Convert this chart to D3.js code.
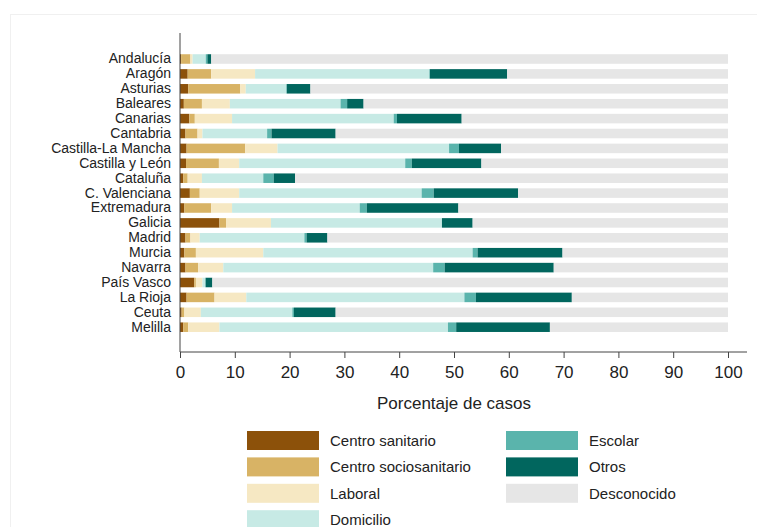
<!DOCTYPE html>
<html>
<head>
<meta charset="utf-8">
<script src="https://cdn.jsdelivr.net/npm/d3@7"></script>
<style>
  body { margin: 0; background: #fff; }
  svg { font-family: "Liberation Sans", Arial, sans-serif; }
</style>
</head>
<body>
<div id="canvas"></div>
<script>
// regions, top to bottom
const regions = ["Andalucía", "Aragón", "Asturias", "Baleares", "Canarias", "Cantabria",
  "Castilla-La Mancha", "Castilla y León", "Cataluña", "C. Valenciana", "Extremadura",
  "Galicia", "Madrid", "Murcia", "Navarra", "País Vasco", "La Rioja", "Ceuta", "Melilla"]

// percentage of cases per setting
const centroSanitario      = [0.2, 1.4, 1.5, 0.7, 1.7, 1.0, 1.2, 1.1, 0.6, 1.8, 0.8, 7.2, 1.0, 0.8, 1.0, 2.6, 1.2, 0.3, 0.6]
const centroSociosanitario = [1.7, 4.3, 9.5, 3.3, 1.0, 2.2, 10.7, 6.0, 0.8, 1.8, 4.9, 1.2, 0.9, 2.1, 2.3, 0.3, 5.1, 0.5, 0.9]
const laboral              = [0.4, 8.0, 1.0, 5.1, 6.8, 0.9, 5.9, 3.7, 2.6, 7.2, 3.8, 8.2, 1.7, 12.3, 4.6, 1.2, 5.8, 3.0, 5.7]
const domicilio            = [2.4, 31.8, 7.4, 20.2, 29.5, 11.8, 31.3, 30.3, 11.2, 33.3, 23.3, 31.2, 19.1, 38.2, 38.3, 0.5, 39.8, 16.7, 41.7]
const escolar              = [0.3, 0.1, 0.1, 1.2, 0.6, 0.8, 1.8, 1.2, 1.9, 2.2, 1.3, 0.0, 0.4, 0.9, 2.1, 0.1, 2.1, 0.3, 1.5]
const otros                = [0.7, 14.1, 4.3, 3.0, 11.8, 11.7, 7.7, 12.7, 3.9, 15.4, 16.7, 5.6, 3.8, 15.5, 19.9, 1.2, 17.5, 7.6, 17.1]
const desconocido          = [94.3, 40.3, 76.2, 66.5, 48.6, 71.6, 41.4, 45.0, 79.0, 38.3, 49.2, 46.6, 73.1, 30.2, 31.8, 94.1, 28.5, 71.6, 32.5]

const seriesNames = ["Centro sanitario", "Centro sociosanitario", "Laboral", "Domicilio",
  "Escolar", "Otros", "Desconocido"]
const seriesValues = [centroSanitario, centroSociosanitario, laboral, domicilio, escolar, otros, desconocido]
const seriesColors = ["#8c510a", "#d8b365", "#f6e8c3", "#c7eae5", "#5ab4ac", "#01665e", "#e6e6e6"]

const xTicks = [0, 10, 20, 30, 40, 50, 60, 70, 80, 90, 100]

const width = 757
const height = 527

const svg = d3.select("#canvas").append("svg")
  .attr("width", width)
  .attr("height", height)

// faint frame round the figure
svg.append("rect")
  .attr("x", 10.5).attr("y", 14.5)
  .attr("width", 760).attr("height", 540)
  .attr("fill", "none")
  .attr("stroke", "#f0f0f0")

const table = regions.map((r, i) => {
  const row = { region: r }
  seriesNames.forEach((s, j) => { row[s] = seriesValues[j][i] })
  return row
})

const stacked = d3.stack().keys(seriesNames)(table)

const x = d3.scaleLinear()
  .domain([0, 100])
  .range([180, 728])

const y = d3.scaleBand()
  .domain(regions)
  .range([51.55, 334.65])
  .paddingInner(0.36)
  .paddingOuter(0.18)

const color = d3.scaleOrdinal().domain(seriesNames).range(seriesColors)

const layers = svg.append("g")
  .selectAll("g")
  .data(stacked)
  .enter()
  .append("g")
  .attr("fill", d => color(d.key))

layers.selectAll("rect")
  .data(d => d)
  .enter()
  .append("rect")
  .attr("x", d => x(d[0]))
  .attr("y", d => y(d.data.region))
  .attr("width", d => Math.max(0, x(d[1]) - x(d[0])))
  .attr("height", y.bandwidth())

// y axis
const yAxis = svg.append("g")
  .attr("transform", "translate(180,0)")
  .call(d3.axisLeft(y).tickSize(0).tickPadding(9))
yAxis.select(".domain").remove()
yAxis.selectAll("text")
  .style("font-size", "14px")
  .style("font-family", "Liberation Sans, Arial, sans-serif")
  .attr("fill", "#222")

svg.append("line")
  .attr("x1", 180).attr("x2", 180)
  .attr("y1", 33).attr("y2", 352)
  .attr("stroke", "#444")
  .attr("stroke-width", 1)

// x axis
const xAxis = svg.append("g")
  .attr("transform", "translate(0,352)")
  .call(d3.axisBottom(x).tickValues(xTicks).tickSize(6).tickPadding(8))
xAxis.select(".domain").remove()
xAxis.selectAll("line").attr("stroke", "#444")
xAxis.selectAll("text")
  .style("font-size", "17px")
  .style("font-family", "Liberation Sans, Arial, sans-serif")
  .attr("fill", "#222")

svg.append("line")
  .attr("x1", 180).attr("x2", 747)
  .attr("y1", 352).attr("y2", 352)
  .attr("stroke", "#444")

svg.append("text")
  .attr("x", 454)
  .attr("y", 409)
  .attr("text-anchor", "middle")
  .style("font-size", "17px")
  .attr("fill", "#222")
  .text("Porcentaje de casos")

// legend, two columns
const legend = svg.append("g")
const legendItems = legend.selectAll("g")
  .data(seriesNames)
  .enter()
  .append("g")
  .attr("transform", (d, i) => {
    const col = i < 4 ? 0 : 1
    const row = i < 4 ? i : i - 4
    return `translate(${col === 0 ? 247 : 506}, ${431 + row * 26.4})`
  })

legendItems.append("rect")
  .attr("width", 72)
  .attr("height", 19)
  .attr("fill", d => color(d))

legendItems.append("text")
  .attr("x", 83)
  .attr("y", 9.5)
  .attr("dy", "0.35em")
  .style("font-size", "15px")
  .attr("fill", "#222")
  .text(d => d)
</script>
</body>
</html>
